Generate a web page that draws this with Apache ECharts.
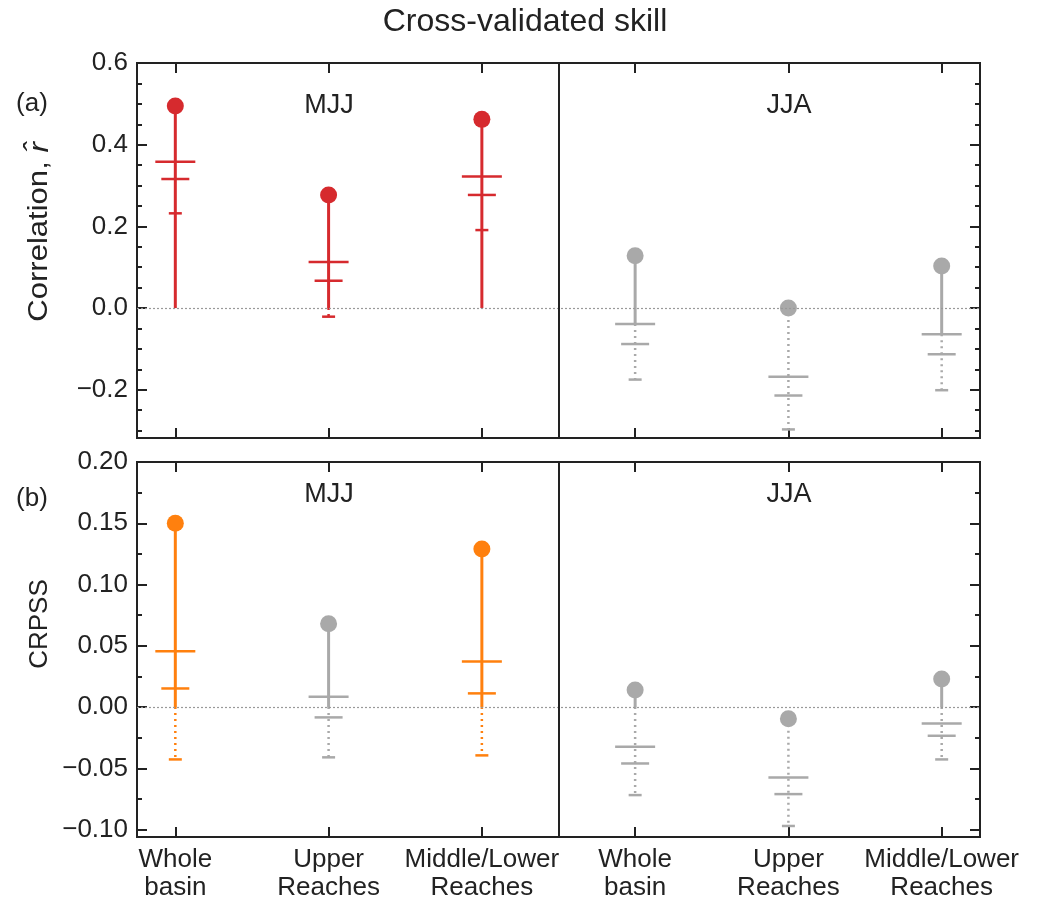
<!DOCTYPE html>
<html><head><meta charset="utf-8">
<script src="https://cdn.jsdelivr.net/npm/echarts@6/dist/echarts.min.js"></script>
<style>html,body{margin:0;padding:0;background:#fff}#chart{width:1040px;height:902px}</style>
</head><body><div id="chart"></div>
<script>
// ---- data ----
const categories = ['Whole\nbasin', 'Upper\nReaches', 'Middle/Lower\nReaches', 'Whole\nbasin', 'Upper\nReaches', 'Middle/Lower\nReaches'];
const seasons = ['MJJ', 'JJA'];
const corrTicks = [-0.2, 0.0, 0.2, 0.4, 0.6];
const corrMinorTicks = [-0.3, -0.25, -0.15, -0.1, -0.05, 0.05, 0.1, 0.15, 0.25, 0.3, 0.35, 0.45, 0.5, 0.55];
const crpssTicks = [-0.10, -0.05, 0.00, 0.05, 0.10, 0.15, 0.20];
const crpssMinorTicks = [-0.075, -0.025, 0.025, 0.075, 0.125, 0.175];

// panel (a): correlation
const corrValue    = [0.495, 0.277, 0.462, 0.128, 0.000, 0.103];
const corrWide     = [0.358, 0.113, 0.322, -0.039, -0.168, -0.064];
const corrMedium   = [0.316, 0.067, 0.277, -0.088, -0.214, -0.113];
const corrSmall    = [0.232, -0.021, 0.191, -0.175, -0.297, -0.201];
const corrSolidEnd = [0, 0, 0, -0.039, 0, -0.064];
const corrSignificant = [1, 1, 1, 0, 0, 0];

// panel (b): CRPSS
const crpssValue    = [0.150, 0.068, 0.129, 0.014, -0.0095, 0.023];
const crpssWide     = [0.0455, 0.0084, 0.0373, -0.0324, -0.0574, -0.0133];
const crpssMedium   = [0.0152, -0.0084, 0.0112, -0.046, -0.071, -0.0234];
const crpssSmall    = [-0.0427, -0.041, -0.0394, -0.0718, -0.097, -0.0427];
const crpssSolidEnd = [0, 0, 0, 0, -0.0095, 0];
const crpssSignificant = [1, 0, 1, 0, 0, 0];

// ---- styles ----
const FONT = '"Liberation Sans", Arial, Helvetica, sans-serif';
const TXT = '#222';
const RED = '#d62a2e';
const ORANGE = '#ff800e';
const GREY = '#a9a9a9';
const positions = categories.map((c, i) => i);

function build(values, wide, med, small, solidEnd, sig) {
  return values.map((v, i) => [i, v, wide[i], med[i], small[i], solidEnd[i], sig[i]]);
}

function makeRender(colorOn) {
  return function (params, api) {
    const x = api.value(0);
    const v = api.value(1), wide = api.value(2), med = api.value(3), small = api.value(4), solidEnd = api.value(5), sig = api.value(6);
    const color = sig ? colorOn : GREY;
    const pv = api.coord([x, v]);
    const pe = api.coord([x, solidEnd]);
    const children = [];
    if (small < solidEnd) {
      const ps = api.coord([x, small]);
      children.push({type: 'line', shape: {x1: pe[0], y1: pe[1], x2: ps[0], y2: ps[1]},
        style: {stroke: color, lineWidth: 2.5, lineDash: [2, 4]}});
    }
    if (v !== solidEnd) {
      children.push({type: 'line', shape: {x1: pv[0], y1: pv[1], x2: pe[0], y2: pe[1]},
        style: {stroke: color, lineWidth: 3}});
    }
    [[wide, 20], [med, 14], [small, 6.5]].forEach(function (b) {
      const p = api.coord([x, b[0]]);
      children.push({type: 'line', shape: {x1: p[0] - b[1], y1: p[1], x2: p[0] + b[1], y2: p[1]},
        style: {stroke: color, lineWidth: 2.5}});
    });
    children.push({type: 'circle', shape: {cx: pv[0], cy: pv[1], r: 8.5}, style: {fill: color}});
    return {type: 'group', children: children};
  };
}

function minus(s) { return s.replace('-', '\u2212'); }

function xAx(grid, pos, labels) {
  return {
    type: 'value', gridIndex: grid, position: pos, min: -0.25, max: 5.25,
    axisLine: {show: false, onZero: false}, splitLine: {show: false},
    axisTick: {show: true, inside: true, length: 10, customValues: positions, lineStyle: {color: TXT, width: 2}},
    axisLabel: labels ? {show: true, customValues: positions, formatter: function (v) { return categories[Math.round(v)]; },
      fontFamily: FONT, fontSize: 26, color: TXT, lineHeight: 28, margin: 9} : {show: false}
  };
}
function yAx(grid, pos, min, max, ticks, len, labelDigits) {
  return {
    type: 'value', gridIndex: grid, position: pos, min: min, max: max,
    axisLine: {show: false, onZero: false}, splitLine: {show: false},
    axisTick: {show: true, inside: true, length: len, customValues: ticks, lineStyle: {color: TXT, width: 2}},
    axisLabel: labelDigits != null ? {show: true, customValues: ticks, formatter: function (v) { return minus(v.toFixed(labelDigits)); },
      fontFamily: FONT, fontSize: 26, color: TXT, margin: 9} : {show: false}
  };
}

const grids = [
  {left: 137, top: 63, width: 843, height: 375, show: true, borderColor: TXT, borderWidth: 2, backgroundColor: 'transparent'},
  {left: 137, top: 462, width: 843, height: 375, show: true, borderColor: TXT, borderWidth: 2, backgroundColor: 'transparent'}
];

function refLines(xi, yi) {
  return {
    type: 'line', xAxisIndex: xi, yAxisIndex: yi, data: [], z: 1, silent: true,
    markLine: {symbol: 'none', silent: true, animation: false, label: {show: false},
      data: [
        {yAxis: 0, lineStyle: {color: '#999', width: 1.2, type: [2, 2]}},
        {xAxis: 2.5, lineStyle: {color: TXT, width: 2, type: 'solid'}}
      ]}
  };
}

function label(text, x, y, size) {
  return {type: 'text', x: x, y: y, style: {text: text, font: size + 'px ' + FONT, fill: TXT, textAlign: 'center', textVerticalAlign: 'middle'}};
}

const option = {
  animation: false,
  backgroundColor: '#fff',
  grid: grids,
  xAxis: [xAx(0, 'bottom', false), xAx(0, 'top', false), xAx(1, 'bottom', true), xAx(1, 'top', false)],
  yAxis: [
    yAx(0, 'left', -0.318, 0.6, corrTicks, 10, 1),
    yAx(0, 'left', -0.318, 0.6, corrMinorTicks, 5, null),
    yAx(0, 'right', -0.318, 0.6, corrTicks, 10, null),
    yAx(0, 'right', -0.318, 0.6, corrMinorTicks, 5, null),
    yAx(1, 'left', -0.106, 0.2, crpssTicks, 10, 2),
    yAx(1, 'left', -0.106, 0.2, crpssMinorTicks, 5, null),
    yAx(1, 'right', -0.106, 0.2, crpssTicks, 10, null),
    yAx(1, 'right', -0.106, 0.2, crpssMinorTicks, 5, null)
  ],
  series: [
    refLines(0, 0),
    refLines(2, 4),
    {type: 'custom', xAxisIndex: 0, yAxisIndex: 0, z: 3, renderItem: makeRender(RED),
      data: build(corrValue, corrWide, corrMedium, corrSmall, corrSolidEnd, corrSignificant)},
    {type: 'custom', xAxisIndex: 2, yAxisIndex: 4, z: 3, renderItem: makeRender(ORANGE),
      data: build(crpssValue, crpssWide, crpssMedium, crpssSmall, crpssSolidEnd, crpssSignificant)}
  ],
  graphic: [
    label('Cross-validated skill', 525, 22, 32),
    label('(a)', 32, 104, 26),
    label('(b)', 32, 499, 26),
    {type: 'text', x: 40, y: 232, rotation: Math.PI / 2, scaleX: 1.15,
      style: {text: 'Correlation, {i|r\u0302}', fill: TXT, font: '27px ' + FONT, textAlign: 'center', textVerticalAlign: 'middle',
        rich: {i: {fontStyle: 'italic', fontSize: 27, fontFamily: FONT, fill: TXT}}}},
    {type: 'text', x: 40, y: 624, rotation: Math.PI / 2, style: {text: 'CRPSS', font: '26px ' + FONT, fill: TXT, textAlign: 'center', textVerticalAlign: 'middle'}},
    label(seasons[0], 329, 106, 27),
    label(seasons[1], 789, 106, 27),
    label(seasons[0], 329, 495, 27),
    label(seasons[1], 789, 495, 27)
  ]
};

const chart = echarts.init(document.getElementById('chart'));
chart.setOption(option);
</script>
</body></html>
